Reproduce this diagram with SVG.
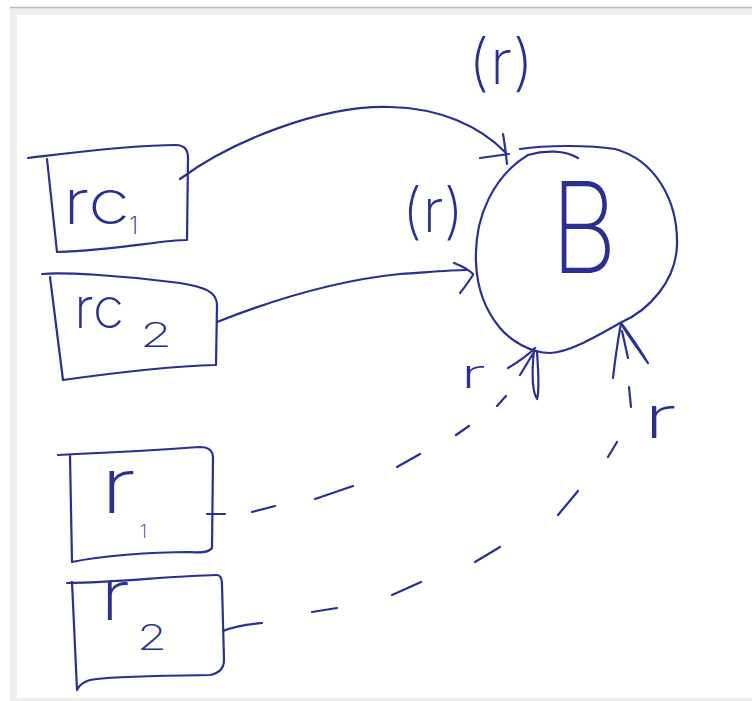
<svg xmlns="http://www.w3.org/2000/svg" width="752" height="701" viewBox="0 0 752 701">
  <style>
    .ink { fill: none; stroke: #29308f; stroke-width: 2.2; stroke-linecap: round; stroke-linejoin: round; }
    .lbl { fill: #29308f; font-family: Inter, Roboto, "Open Sans", Lato, "Liberation Sans", sans-serif; font-weight: 200; }
  </style>

  <!-- page frame -->
  <rect x="0" y="0" width="752" height="701" fill="#ffffff"/>
  <rect x="10" y="7" width="742" height="694" fill="#eeeeee"/>
  <line x1="10" y1="7.5" x2="752" y2="7.5" stroke="#bcbcbc" stroke-width="1.5"/>
  <rect x="17" y="15" width="735" height="683" fill="#ffffff"/>

  <!-- connectors -->
  <g id="connectors" class="ink">
    <!-- rc1 -> B -->
    <path d="M180,179 C230,142 320,105 390,107 C440,108 480,126 506,153"/>
    <path d="M503,134 C505,145 506,155 507,164 M480,158 L509,154"/>
    <!-- rc2 -> B -->
    <path d="M217,322 C260,305 330,281 400,274 C430,272 452,270 466,270"/>
    <path d="M454,263 C462,266 468,269 473,274 M460,293 C465,287 469,281 473,275"/>
    <!-- r1 -> B (dashed) -->
    <path d="M207,514 L225,514 M252,512 L275,506 M315,499 L353,486 M397,467 L420,454 M456,435 L469,426 M497,406 L506,396"/>
    <path d="M508,368 C518,362 528,355 535,348 M520,375 L534,352 M534,350 C532,370 531,390 537,399 C540,390 538,370 537,351"/>
    <!-- r2 -> B (dashed) -->
    <path d="M223,631 C235,626 250,624 262,623 M312,612 L337,608 M392,595 L421,582 M475,562 L500,547 M558,515 L578,491 M608,457 L617,442 M629,387 L631,407"/>
    <path d="M613,378 C615,360 618,340 621,323 M628,358 L622,331 M621,323 C630,335 640,350 648,363 C640,352 630,338 623,327"/>
  </g>

  <!-- edge labels -->
  <g id="edge-labels">
    <text class="lbl" x="468" y="84" font-size="62" textLength="66" lengthAdjust="spacingAndGlyphs">(r)</text>
    <text class="lbl" x="402" y="232" font-size="61" textLength="62" lengthAdjust="spacingAndGlyphs">(r)</text>
    <text class="lbl" x="460" y="388" font-size="40" textLength="26" lengthAdjust="spacingAndGlyphs">r</text>
    <text class="lbl" x="643" y="438" font-size="58" textLength="34" lengthAdjust="spacingAndGlyphs">r</text>
  </g>

  <!-- node B -->
  <g id="node-B">
    <path class="ink" d="M520,149 C545,145 590,145 615,149 C655,160 678,200 677,245 C676,280 650,310 620,323 C595,337 570,352 550,353 C530,353 510,340 500,328 C485,310 477,290 476,262 C474,215 495,175 528,155 C545,150 565,150 578,158"/>
    <text class="lbl" x="551" y="273" font-size="126" textLength="66" lengthAdjust="spacingAndGlyphs">B</text>
  </g>

  <!-- node rc1 -->
  <g id="node-rc1">
    <path class="ink" d="M28,158 C70,153 130,145 176,145 C185,145 188,150 188,158 L187,240 C160,240 120,250 57,252 M47,159 L57,252"/>
    <text class="lbl" x="63" y="224" font-size="62" textLength="67" lengthAdjust="spacingAndGlyphs">rc</text>
    <text class="lbl" x="129" y="234" font-size="24">1</text>
  </g>

  <!-- node rc2 -->
  <g id="node-rc2">
    <path class="ink" d="M42,274 C60,272 120,275 180,283 C205,287 217,292 217,305 L216,365 C180,366 120,372 63,380 M50,277 L63,380"/>
    <text class="lbl" x="74" y="328" font-size="56" textLength="50" lengthAdjust="spacingAndGlyphs">rc</text>
    <text class="lbl" x="140" y="347" font-size="34" textLength="32" lengthAdjust="spacingAndGlyphs">2</text>
  </g>

  <!-- node r1 -->
  <g id="node-r1">
    <path class="ink" d="M58,455 C100,453 160,450 200,447 C210,447 213,452 213,458 L212,548 C208,553 200,553 190,552 C150,552 100,556 72,562 M70,455 L72,562"/>
    <text class="lbl" x="100" y="513" font-size="76" textLength="36" lengthAdjust="spacingAndGlyphs">r</text>
    <text class="lbl" x="140" y="538" font-size="18">1</text>
  </g>

  <!-- node r2 -->
  <g id="node-r2">
    <path class="ink" d="M67,583 C120,582 170,576 217,575 C221,575 222,580 222,585 L224,660 C224,668 220,673 210,675 C160,676 110,676 90,680 Q80,683 77,690 M72,582 L77,690"/>
    <text class="lbl" x="100" y="620" font-size="70" textLength="30" lengthAdjust="spacingAndGlyphs">r</text>
    <text class="lbl" x="137" y="650" font-size="35" textLength="30" lengthAdjust="spacingAndGlyphs">2</text>
  </g>
</svg>
